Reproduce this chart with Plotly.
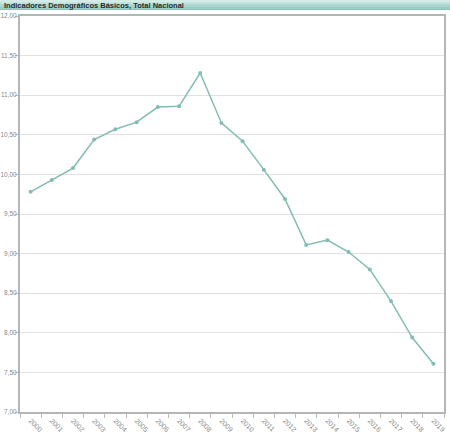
import plotly.graph_objects as go

years = [str(y) for y in range(2000, 2020)]
values = [9.78, 9.93, 10.08, 10.44, 10.57, 10.66, 10.85, 10.86, 11.28, 10.65,
          10.42, 10.06, 9.69, 9.11, 9.17, 9.02, 8.80, 8.40, 7.94, 7.61]
y_ticks = [7.0, 7.5, 8.0, 8.5, 9.0, 9.5, 10.0, 10.5, 11.0, 11.5, 12.0]
title_text = "Indicadores Demográficos Básicos, Total Nacional"

W, H = 450, 440
ML, MR, MT, MB = 20, 6, 16, 28
PW, PH = W - ML - MR, H - MT - MB

def px_to_paper_x(p):
    return (p - ML) / PW

def px_to_paper_y(p):
    return (H - MB - p) / PH

line_color = "#82bdb4"

fig = go.Figure()
fig.add_trace(go.Scatter(
    x=years, y=values, mode="lines+markers",
    line=dict(color=line_color, width=1.5),
    marker=dict(color=line_color, size=4),
    hoverinfo="x+y",
))

# title bar gradient
shapes = []
grad = ["#d3ebe7", "#c4e3de", "#b4dbd5", "#a4d3cc", "#95cbc3", "#87c3ba"]
n = len(grad)
for i, c in enumerate(grad):
    y0 = 10 * i / n
    y1 = 10 * (i + 1) / n
    shapes.append(dict(type="rect", xref="paper", yref="paper",
                       x0=px_to_paper_x(0), x1=px_to_paper_x(450),
                       y0=px_to_paper_y(y1), y1=px_to_paper_y(y0),
                       fillcolor=c, line=dict(width=0), layer="above"))

fig.update_layout(
    width=W, height=H,
    margin=dict(l=ML, r=MR, t=MT, b=MB, pad=0, autoexpand=False),
    paper_bgcolor="white", plot_bgcolor="white",
    showlegend=False,
    separators=",.",
    font=dict(family="Liberation Sans", size=6.5, color="#888"),
    shapes=shapes,
    annotations=[dict(
        text=title_text, xref="paper", yref="paper",
        x=px_to_paper_x(2), y=px_to_paper_y(5),
        xanchor="left", yanchor="middle", showarrow=False,
        font=dict(family="Liberation Sans", size=7.5, color="#2a2a2a", weight="bold"),
    )],
    xaxis=dict(
        type="category", range=[-0.5, len(years) - 0.5],
        tickangle=45, tickson="boundaries", ticks="outside", ticklen=4,
        tickcolor="#bbb", showgrid=False, automargin=False,
        showline=True, linecolor="#b5b5b5", linewidth=2, mirror=True,
        tickfont=dict(size=7, color="#888"),
    ),
    yaxis=dict(
        range=[7, 12], tickvals=y_ticks, tickformat=".2f",
        ticks="outside", ticklen=3, tickcolor="#bbb", automargin=False,
        ticklabelstandoff=-3,
        showgrid=True, gridcolor="#e2e2e2", gridwidth=1,
        showline=True, linecolor="#b5b5b5", linewidth=2, mirror=True,
        zeroline=False,
        tickfont=dict(size=6.5, color="#888"),
    ),
)

fig.write_html("out.html",
               config={"displayModeBar": False},
               post_script="document.body.style.margin='0';document.body.style.overflow='hidden';")
